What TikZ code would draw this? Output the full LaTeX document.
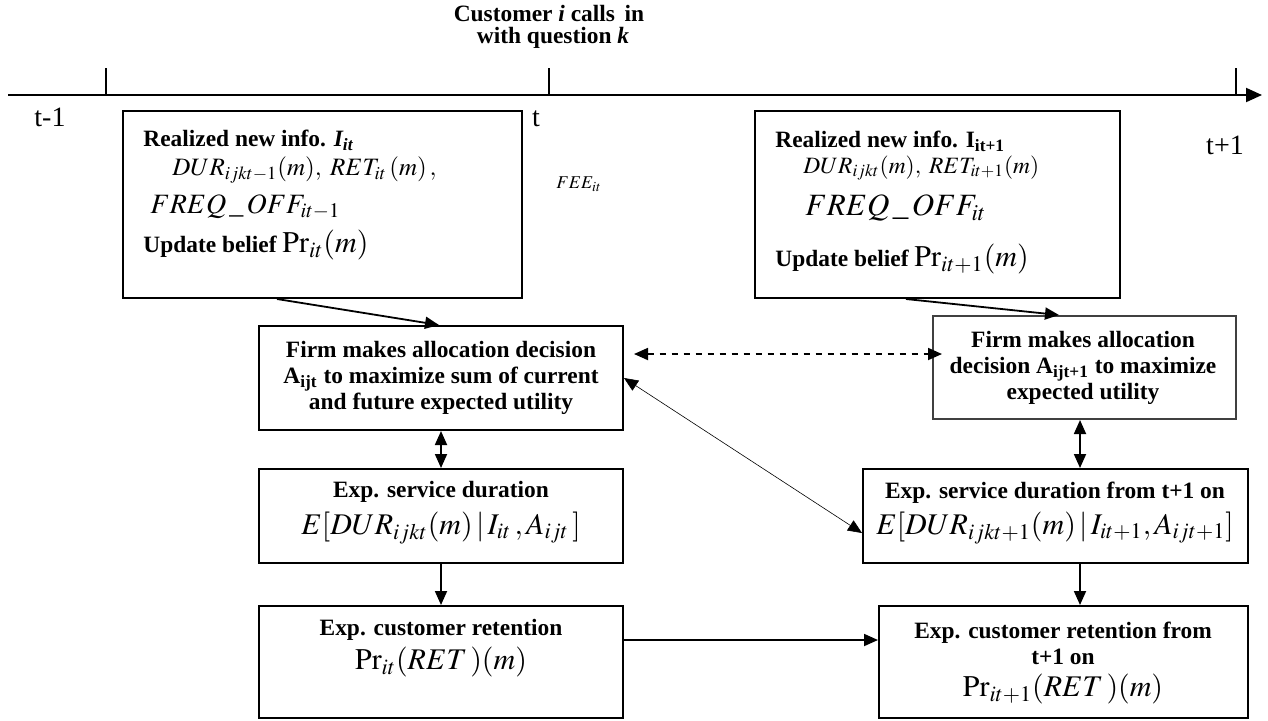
\documentclass[tikz,border=0pt]{standalone}
\usepackage{mathptmx}
\usepackage[no-math]{fontspec}
\setmainfont{Liberation Serif}
\usetikzlibrary{arrows.meta,calc}
\begin{document}
\begin{tikzpicture}[x=0.5pt,y=-0.5pt,
  box/.style={draw, line width=1pt, inner sep=0pt, rectangle},
  bt/.style={inner sep=0pt, font=\fontsize{11.7}{13}\selectfont\bfseries, align=center},
  mt/.style={inner sep=0pt, font=\fontsize{15}{16}\selectfont},
  arr/.style={line width=0.9pt, -{Triangle[length=7pt,width=6pt]}},
  darr/.style={line width=0.9pt, {Triangle[length=7pt,width=6pt]}-{Triangle[length=7pt,width=6pt]}},
  thinarr/.style={line width=0.3pt, {Triangle[length=7pt,width=6pt]}-{Triangle[length=7pt,width=6pt]}},
  tlbl/.style={inner sep=0pt, font=\fontsize{14}{15}\selectfont}
]
\useasboundingbox (0,0) rectangle (1268,720);

% timeline
\coordinate (tl0) at (8,95);
\coordinate (tl1) at (1262,95);
\draw[line width=1pt, -{Triangle[length=8pt,width=7pt]}] (tl0) -- (tl1);
\coordinate (k1) at (106,68);
\coordinate (k2) at (549,68);
\coordinate (k3) at (1236,68);
\draw[line width=0.8pt] (k1) -- (k1 |- tl0);
\draw[line width=0.8pt] (k2) -- (k2 |- tl0);
\draw[line width=0.8pt] (k3) -- (k3 |- tl0);
\node[tlbl] (lt1) at (50,117) {t-1};
\node[tlbl] (lt) at (536,119) {t};
\node[tlbl] (lt2) at (1225,145) {t+1};
\node[bt] (cust) at (549,14) {Customer \textit{i} calls\, in};
\node[bt] (withq) at (553,38) {with question \textit{k}};
\node[inner sep=0pt, font=\fontsize{9}{10}\selectfont, anchor=west] (fee) at (556,184) {$FEE_{it}$};

% boxes
\node[box, minimum width=199.5pt, minimum height=93.5pt] (A) at (322.5,204.5) {};
\node[box, minimum width=182.5pt, minimum height=93.5pt] (B) at (937.5,204.5) {};
\node[box, minimum width=182pt, minimum height=52pt] (C) at (441,378) {};
\node[box, draw=black!75, minimum width=151.5pt, minimum height=51.5pt] (D) at (1084.5,367.5) {};
\node[box, minimum width=192.5pt, minimum height=47pt] (F) at (1055.5,516) {};
\node[box, minimum width=182pt, minimum height=47pt] (E) at (441,516) {};
\node[box, minimum width=182pt, minimum height=56pt] (G) at (441,662) {};
\node[box, minimum width=184.5pt, minimum height=56pt] (H) at (1063.5,662) {};

% box A text
\node[bt, anchor=west] (a1) at (143,140) {Realized new info. \textit{I\textsubscript{it}}};
\node[mt, anchor=west, font=\fontsize{12.5}{14}\selectfont] (a2) at (172,170) {$DUR_{ijkt-1}(m),\; RET_{it}\,(m)\,,$};
\node[mt, anchor=west, font=\fontsize{14}{15}\selectfont] (a3) at (150,207) {$FREQ\,\_\,OFF_{it-1}$};
\node[bt, anchor=west] (a4) at (143,245) {Update belief \mdseries\fontsize{15}{16}\selectfont$\Pr_{it}(m)$};

% box B text
\node[bt, anchor=west] (b1) at (775,141) {Realized new info. I\textsubscript{it+1}};
\node[mt, anchor=west, font=\fontsize{11.7}{13}\selectfont] (b2) at (803,168) {$DUR_{ijkt}(m),\; RET_{it+1}(m)$};
\node[mt, anchor=west, font=\fontsize{15.5}{16.5}\selectfont] (b3) at (805,208) {$FREQ\,\_\,OFF_{it}$};
\node[bt, anchor=west] (b4) at (775,259) {Update belief \mdseries\fontsize{15}{16}\selectfont$\Pr_{it+1}(m)$};

% box C, D text
\node[bt] (ct) at (C.center) {Firm makes allocation decision\\A\textsubscript{ijt} to maximize sum of current\\and future expected utility};
\node[bt] (dt) at (1083,368) {Firm makes allocation\\decision A\textsubscript{ijt+1} to maximize\\expected utility};

% box E, F text
\node[bt] (e1) at (441,492) {Exp. service duration};
\node[mt] (e2) at (441,528) {$E[DUR_{ijkt}(m)\,|\,I_{it}\,,A_{ijt}\,]$};
\node[bt] (f1) at (1055,493) {Exp. service duration from t+1 on};
\node[mt] (f2) at (1055,528) {$E[DUR_{ijkt+1}(m)\,|\,I_{it+1},A_{ijt+1}]$};

% box G, H text
\node[bt] (g1) at (441,630) {Exp. customer retention};
\node[mt] (g2) at (441,662) {$\Pr_{it}(RET\,)(m)$};
\node[bt] (h1) at (1063,643) {Exp. customer retention from\\t+1 on};
\node[mt] (h2) at (1063,689) {$\Pr_{it+1}(RET\,)(m)$};

% connectors
\draw[arr] ([xshift=77.5pt]A.south west) -- ([xshift=90.5pt]C.north west);
\draw[arr] ([xshift=76pt]B.south west) -- ([xshift=63.5pt]D.north west);
\draw[darr, dashed] ([xshift=5pt,yshift=12pt]C.east) -- ([xshift=5pt,yshift=12pt]C.east -| D.west);
\draw[thinarr] (C.east) -- ([yshift=-8.5pt]F.west);
\draw[darr] (C.south) -- (E.north);
\draw[arr] (E.south) -- (G.north);
\draw[darr] ([xshift=-2.25pt]D.south) -- ([xshift=-2.25pt]D.south |- F.north);
\draw[arr] ([xshift=12.25pt]F.south) -- ([xshift=12.25pt]F.south |- H.north);
\draw[arr] ([yshift=11pt]G.east) -- ([yshift=11pt]G.east -| H.west);
\end{tikzpicture}
\end{document}
